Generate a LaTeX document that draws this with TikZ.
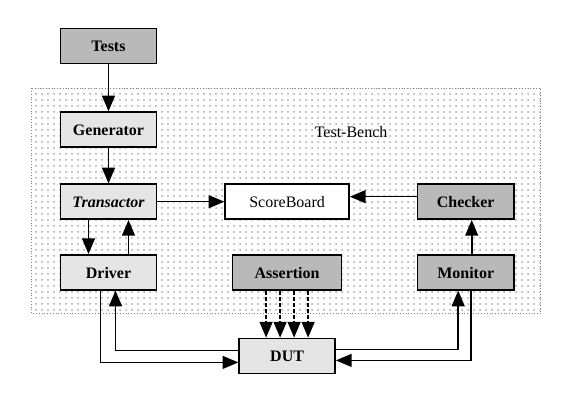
\documentclass[tikz,border=0pt]{standalone}
\usepackage{fontspec}
\setmainfont{Liberation Serif}
\usetikzlibrary{matrix}
\usetikzlibrary{arrows}
\usetikzlibrary{calc}
\usetikzlibrary{patterns}
\usetikzlibrary{backgrounds}

\begin{document}
\begin{tikzpicture}[>=triangle 45, thick,
    dark/.style={fill=gray!55}, light/.style={fill=gray!20},
    plain/.style={font=\fontsize{8}{9.6}\selectfont}]
      \matrix(m)[matrix of nodes, column sep=33.5pt,
      nodes={draw, anchor=center, minimum width=48pt, minimum height=17.5pt,
        inner sep=1pt, font=\fontsize{8}{9.6}\selectfont\bfseries,
        text height=1.5ex, text depth=0.25ex}]{
        |[dark]| Tests & & \\[23.5pt]
        |[light]| Generator & & \\[17.75pt]
        |[light,font=\fontsize{8}{9.6}\selectfont\bfseries\itshape]| Transactor
          & |[fill=white,minimum width=62pt,plain]| ScoreBoard
          & |[dark]| Checker \\[17pt]
        |[light]| Driver & |[dark,minimum width=54.5pt]| Assertion & |[dark]| Monitor \\[23.5pt]
        & |[light]| DUT & \\};
      \path[->] (m-1-1) edge (m-2-1);
      \path[->] (m-2-1) edge (m-3-1);
      \path[->] (m-3-1) edge (m-3-2);
      \path[->] ([yshift=2.5pt]m-3-3.west) edge ([yshift=2.5pt]m-3-2.east);
      \path[->] ([xshift=-10pt]m-3-1.south) edge ([xshift=-10pt]m-4-1.north);
      \path[->] ([xshift=10pt]m-4-1.north) edge ([xshift=10pt]m-3-1.south);
      \path[->] ([xshift=3pt]m-4-3.north) edge ([xshift=3pt]m-3-3.south);

      % driver and monitor to the DUT
      \draw[->] ([xshift=-4pt]m-4-1.south) |- ([yshift=-3.25pt]m-5-2.west);
      \draw[->] ([yshift=2.75pt]m-5-2.west) -| ([xshift=3.5pt]m-4-1.south);
      \draw[->] ([yshift=3.25pt]m-5-2.east) -| ([xshift=-3.75pt]m-4-3.south);
      \draw[->] ([xshift=2.75pt]m-4-3.south) |- ([yshift=-2.25pt]m-5-2.east);

      \foreach \d in {-10.5,-3.5,3.5,10.5}
        \draw[->,dash pattern=on 2pt off 1pt] ([xshift=\d pt]m-4-2.south) -- ++(0,-23.5pt);

      \node[plain] (tb) at ([xshift=32pt,yshift=35pt]m-3-2) {Test-Bench};

      \begin{scope}[on background layer]
        \draw[gray, thin, densely dotted, pattern=dots, pattern color=gray!70]
          ([xshift=-14pt,yshift=11.5pt]m-2-1.north west) rectangle
          ([xshift=13pt,yshift=-11.5pt]m-4-3.south east);
      \end{scope}

      \useasboundingbox ([xshift=-54.25pt,yshift=23pt]m-1-1.center) rectangle
        ([xshift=234.25pt,yshift=-180pt]m-1-1.center);
    \end{tikzpicture}
\end{document}
